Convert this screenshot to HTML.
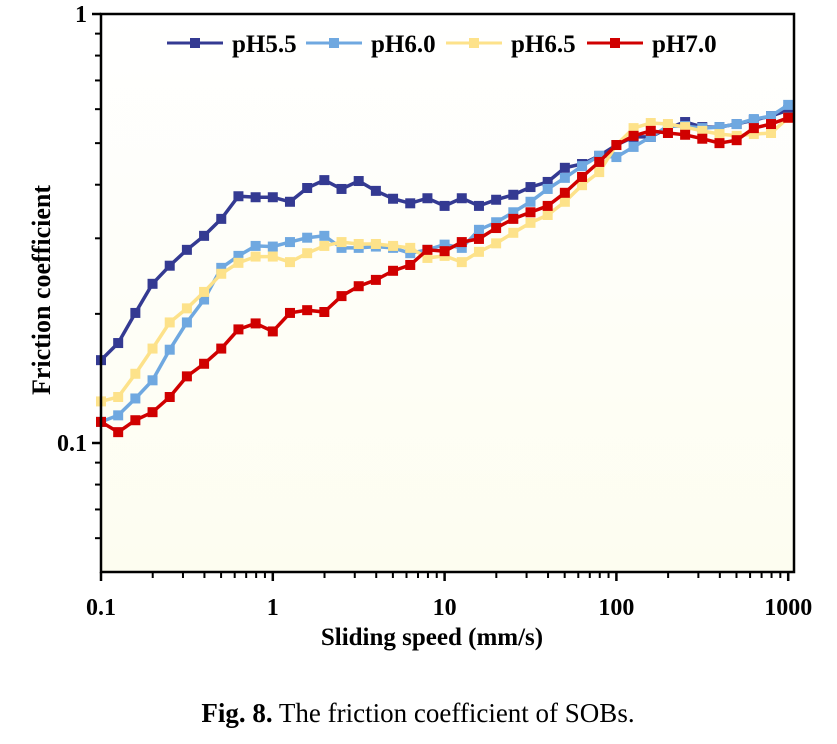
<!DOCTYPE html>
<html><head><meta charset="utf-8"><style>
body{margin:0;background:#fff;}
svg{display:block;font-family:"Liberation Serif",serif;}
</style></head><body>
<svg id="chart" width="837" height="744" viewBox="0 0 837 744" xmlns="http://www.w3.org/2000/svg">
<defs><linearGradient id="bg" x1="0" y1="0" x2="0" y2="1"><stop offset="0" stop-color="#ffffff"/><stop offset="1" stop-color="#fdfdf0"/></linearGradient></defs>
<rect x="101" y="14" width="693" height="558" fill="url(#bg)"/>
<g id="series"></g>
<g id="axes"></g>
<g id="legend"></g>
<text transform="translate(50,290) rotate(-90)" text-anchor="middle" font-size="26" font-weight="bold">Friction coefficient</text>
<text x="432" y="645" text-anchor="middle" font-size="25" font-weight="bold">Sliding speed (mm/s)</text>
<text x="418" y="722" text-anchor="middle" font-size="27"><tspan font-weight="bold">Fig. 8.</tspan> The friction coefficient of SOBs.</text>
</svg>
<script>
const logX = [-1,-0.9,-0.8,-0.7,-0.6,-0.5,-0.4,-0.3,-0.2,-0.1,0,0.1,0.2,0.3,0.4,0.5,0.6,0.7,0.8,0.9,1,1.1,1.2,1.3,1.4,1.5,1.6,1.7,1.8,1.9,2,2.1,2.2,2.3,2.4,2.5,2.6,2.7,2.8,2.9,3];
const ph55 = [0.156,0.171,0.201,0.235,0.259,0.282,0.304,0.333,0.376,0.374,0.374,0.365,0.393,0.410,0.391,0.408,0.387,0.371,0.362,0.372,0.357,0.372,0.357,0.369,0.379,0.395,0.406,0.438,0.447,0.467,0.495,0.517,0.517,0.542,0.560,0.545,0.545,0.554,0.566,0.578,0.597];
const ph60 = [0.112,0.116,0.127,0.140,0.165,0.191,0.216,0.256,0.273,0.288,0.287,0.294,0.301,0.304,0.285,0.285,0.287,0.285,0.277,0.282,0.290,0.285,0.314,0.327,0.345,0.365,0.391,0.415,0.442,0.467,0.464,0.490,0.517,0.548,0.548,0.542,0.545,0.554,0.569,0.578,0.614];
const ph65 = [0.125,0.128,0.145,0.166,0.191,0.206,0.225,0.248,0.263,0.272,0.272,0.264,0.277,0.288,0.294,0.291,0.291,0.288,0.285,0.270,0.273,0.264,0.279,0.292,0.309,0.326,0.340,0.365,0.399,0.428,0.495,0.542,0.557,0.554,0.545,0.534,0.525,0.520,0.525,0.528,0.573];
const ph70 = [0.112,0.106,0.113,0.118,0.128,0.143,0.153,0.166,0.184,0.190,0.182,0.201,0.204,0.202,0.220,0.232,0.240,0.252,0.260,0.282,0.280,0.294,0.299,0.317,0.333,0.345,0.357,0.383,0.417,0.452,0.495,0.520,0.534,0.528,0.523,0.512,0.500,0.508,0.542,0.554,0.573];
const seriesNames = ["pH5.5","pH6.0","pH6.5","pH7.0"];
const xTickLabels = ["0.1","1","10","100","1000"];
const yTickLabels = ["0.1","1"];

const NS="http://www.w3.org/2000/svg";
const L=101,R=794,T=14,B=572;
const X0=101,XD=171.8;
function xs(lx){return X0+(lx+1)*XD;}
function ys(v){return T-Math.log10(v)*429;}
function mk(tag,attrs,parent){const e=document.createElementNS(NS,tag);for(const k in attrs)e.setAttribute(k,attrs[k]);parent.appendChild(e);return e;}
const colors=["#343a92","#6fa8e0","#fde28a","#d00000"];
const data=[ph55,ph60,ph65,ph70];
const sg=document.getElementById('series');
data.forEach((arr,i)=>{
  const g=mk('g',{},sg);
  
  
  const pts=arr.map((v,j)=>xs(logX[j]).toFixed(1)+','+ys(v).toFixed(1)).join(' ');
  const pl=mk('polyline',{points:pts,fill:'none',stroke:colors[i],'stroke-width':3.5},g);
  
  
  arr.forEach((v,j)=>{
    const r=mk('rect',{x:xs(logX[j])-5,y:ys(v)-5,width:10,height:10,fill:colors[i]},g);
    
    
  });
});
const ax=document.getElementById('axes');
const frame=mk('rect',{x:L,y:T,width:R-L,height:B-T,fill:'none',stroke:'#000','stroke-width':2.5},ax);


for(let d=0;d<5;d++){
  const x=xs(d-1);
  const t=mk('line',{x1:x,x2:x,y1:B,y2:B+9,stroke:'#000','stroke-width':2.5},ax);
  
  
  const tx=mk('text',{x:x,y:B+43,'text-anchor':'middle','font-size':24,'font-weight':'bold'},ax);
  tx.textContent=xTickLabels[d];
  
  
  if(d<4){for(let m=2;m<10;m++){const mx=xs(d-1+Math.log10(m));
    const mt=mk('line',{x1:mx,x2:mx,y1:B,y2:B+6,stroke:'#000','stroke-width':2},ax);
    
    }}
}
[0.1,1].forEach((v,i)=>{
  const y=ys(v);
  const t=mk('line',{x1:L-9,x2:L,y1:y,y2:y,stroke:'#000','stroke-width':2.5},ax);
  
  
  const tx=mk('text',{x:L-14,y:y+8,'text-anchor':'end','font-size':24,'font-weight':'bold'},ax);
  tx.textContent=yTickLabels[i];
  
  
});
[0.06,0.07,0.08,0.09,0.2,0.3,0.4,0.5,0.6,0.7,0.8,0.9].forEach(v=>{
  const y=ys(v);
  const t=mk('line',{x1:L-6,x2:L,y1:y,y2:y,stroke:'#000','stroke-width':2},ax);
  
  
});
const lg=document.getElementById('legend');
const lx=[167,306,446,587];
seriesNames.forEach((n,i)=>{
  const g=mk('g',{},lg);
  
  
  mk('line',{x1:lx[i],x2:lx[i]+56,y1:43,y2:43,stroke:colors[i],'stroke-width':3},g);
  mk('rect',{x:lx[i]+23,y:38,width:10,height:10,fill:colors[i]},g);
  const t=mk('text',{x:lx[i]+65,y:52,'font-size':25,'font-weight':'bold'},g);
  t.textContent=n;
});
</script>
</body></html>
